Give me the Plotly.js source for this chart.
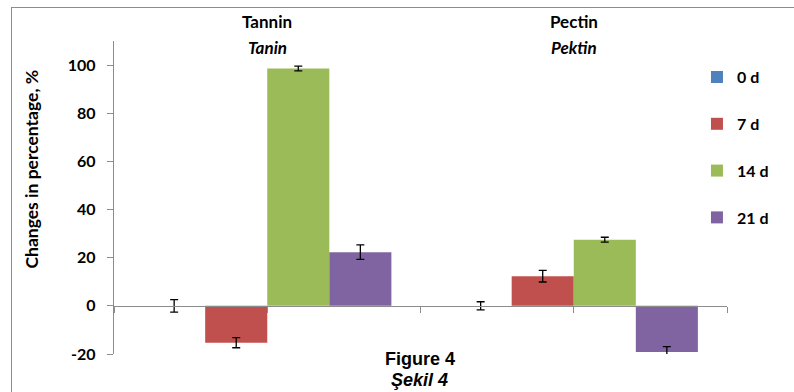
<!DOCTYPE html>
<html>
<head>
<meta charset="utf-8">
<script src="https://cdn.plot.ly/plotly-3.0.1.min.js"></script>
<style>
  html, body { margin: 0; padding: 0; background: #fff; }
  #wrap { position: relative; width: 794px; height: 392px; overflow: hidden; }
  #frame { position: absolute; left: 11px; top: 7px; right: -5px; bottom: -5px;
           border-left: 1px solid #8c8c8c; border-top: 1px solid #8c8c8c; pointer-events: none; }
  #chart { position: absolute; left: 0; top: 0; width: 794px; height: 392px; }
</style>
</head>
<body>
<div id="wrap">
  <div id="chart"></div>
  <div id="frame"></div>
</div>
<script>
// Substances (English / Turkish names)
const categories = ['Tannin', 'Pectin'];
const categoriesTr = ['Tanin', 'Pektin'];

// Storage periods
const series = ['0 d', '7 d', '14 d', '21 d'];

// Change in percentage for each period, per substance
const values0 = [0, 0];
const values7 = [-15.3, 12.3];
const values14 = [98.6, 27.5];
const values21 = [22.3, -19.2];

// Error bar half-widths
const err0 = [2.6, 1.7];
const err7 = [2.1, 2.4];
const err14 = [1.0, 1.0];
const err21 = [3.0, 2.3];

// Y axis ticks
const yTicks = [-20, 0, 20, 40, 60, 80, 100];

const colors = ['#4F81BD', '#C0504D', '#9BBB59', '#8064A2'];

const allValues = [values0, values7, values14, values21];
const allErrors = [err0, err7, err14, err21];

const xPos = categories.map((_, i) => i);

const traces = series.map((name, s) => ({
  type: 'bar',
  name: name,
  legendgroup: name,
  x: xPos,
  y: allValues[s],
  marker: { color: colors[s], line: { width: 0 } },
  error_y: {
    type: 'data',
    array: allErrors[s],
    visible: true,
    color: '#000000',
    thickness: 1.3,
    width: 4
  },
  hoverinfo: 'skip'
}));

const calibri = 'Lato, "Open Sans", sans-serif';
const arial = '"Liberation Sans", Arial, sans-serif';

const annotations = [];
categories.forEach((c, i) => {
  annotations.push({
    xref: 'x', yref: 'paper', x: i, y: 1.061, text: c,
    showarrow: false, xanchor: 'center', yanchor: 'middle',
    font: { family: calibri, size: 17, weight: 'bold', color: '#000' }
  });
  annotations.push({
    xref: 'x', yref: 'paper', x: i, y: 0.978, text: '<i>' + categoriesTr[i] + '</i>',
    showarrow: false, xanchor: 'center', yanchor: 'middle',
    font: { family: calibri, size: 17, weight: 'bold', color: '#000' }
  });
});
// Y axis title, set a little above the plot's vertical centre
annotations.push({
  xref: 'paper', yref: 'paper', x: -0.1346, y: 0.591, text: 'Changes in percentage, %',
  textangle: -90, showarrow: false, xanchor: 'center', yanchor: 'middle',
  font: { family: calibri, size: 17.5, weight: 'bold', color: '#000' }
});
annotations.push({
  xref: 'paper', yref: 'paper', x: 0.499, y: -0.016, text: 'Figure 4',
  showarrow: false, xanchor: 'center', yanchor: 'middle',
  font: { family: arial, size: 18, weight: 'bold', color: '#000' }
});
annotations.push({
  xref: 'paper', yref: 'paper', x: 0.499, y: -0.083, text: '<i>Şekil 4</i>',
  showarrow: false, xanchor: 'center', yanchor: 'middle',
  font: { family: arial, size: 18, weight: 'bold', color: '#000' }
});

const yMin = -20, yMax = 110;

const layout = {
  width: 794,
  height: 392,
  margin: { l: 114, r: 67, t: 41, b: 38 },
  paper_bgcolor: '#ffffff',
  plot_bgcolor: 'rgba(0,0,0,0)',
  barmode: 'group',
  bargap: 0.19,
  bargroupgap: 0,
  showlegend: true,
  legend: {
    x: 0.951, xanchor: 'left',
    y: 0.939, yanchor: 'top',
    traceorder: 'grouped',
    tracegroupgap: 23,
    itemwidth: 30,
    bgcolor: 'rgba(0,0,0,0)',
    font: { family: calibri, size: 16, weight: 'bold', color: '#000' }
  },
  xaxis: {
    range: [-0.5, 1.5],
    anchor: 'free',
    position: (0 - yMin) / (yMax - yMin),
    tickmode: 'array',
    tickvals: [-0.5, 0, 0.5, 1, 1.5],
    ticktext: ['', '', '', '', ''],
    ticks: 'outside',
    ticklen: 6,
    tickcolor: '#8c8c8c',
    showline: true,
    linecolor: '#8c8c8c',
    linewidth: 1.3,
    showgrid: false,
    zeroline: false,
    fixedrange: true
  },
  yaxis: {
    range: [yMin, yMax],
    tickmode: 'array',
    tickvals: yTicks,
    ticktext: yTicks.map(v => String(v)),
    ticks: 'outside',
    ticklen: 6,
    tickcolor: '#8c8c8c',
    ticklabelstandoff: 8,
    showline: true,
    linecolor: '#8c8c8c',
    linewidth: 1.3,
    showgrid: false,
    zeroline: false,
    tickfont: { family: calibri, size: 16, weight: 'bold', color: '#000' },
    fixedrange: true
  },
  annotations: annotations
};

Plotly.newPlot('chart', traces, layout, { displayModeBar: false, staticPlot: true });
</script>
</body>
</html>
